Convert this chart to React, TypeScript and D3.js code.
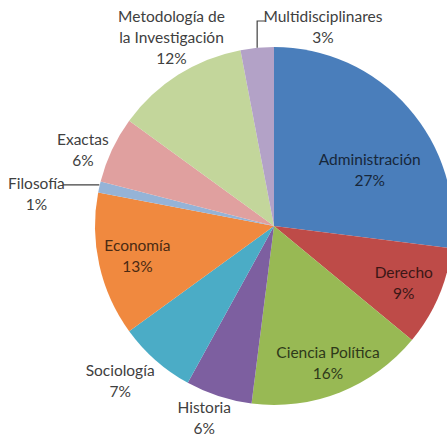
import * as d3 from 'd3'

// categories clockwise from 12 o'clock
const categories: string[][] = [
  ['Administración'],
  ['Derecho'],
  ['Ciencia Política'],
  ['Historia'],
  ['Sociología'],
  ['Economía'],
  ['Filosofía'],
  ['Exactas'],
  ['Metodología de', 'la Investigación'],
  ['Multidisciplinares'],
]
const shares: number[] = [27, 9, 16, 6, 7, 13, 1, 6, 12, 3]

const palette: string[] = [
  '#4a7ebb', '#be4b48', '#98b954', '#7d5fa0', '#4bacc6',
  '#f0893f', '#95b3d7', '#e0a09f', '#c3d69b', '#b3a2c7',
]
// true = label sits on the slice, false = outside
const inside: boolean[] = [true, true, true, false, false, true, false, false, false, false]

// label placement: radius as share of the pie radius, angle shift in degrees
const labelRadius: number[] = [0.62, 0.79, 0.82, 1.14, 1.22, 0.78, 1.34, 1.15, 1.2, 1.145]
const labelShift: number[] = [11, 0, 0, 2, 3.4, 0.6, -4.7, -3.4, 3.9, 19.2]

const W = 447
const H = 436
const cx = 274
const cy = 226
const r = 179
const lineH = 21

export default function App() {
  const rows = categories.map((c, i) => ({ name: c, value: shares[i], i }))
  const pie = d3.pie<any>().sort(null).value((d: any) => d.value)
  const arcs = pie(rows)
  const arc = d3.arc<any>().innerRadius(0).outerRadius(r)

  const polar = (a: number, R: number): [number, number] => [cx + R * Math.sin(a), cy - R * Math.cos(a)]

  return (
    <svg width={W} height={H} style={{ position: 'absolute', left: 0, top: 0 }}
      fontFamily="Lato, 'Open Sans', sans-serif" fontSize={15.5}>
      <rect width={W} height={H} fill="#fff" />
      <g transform={`translate(${cx},${cy})`}>
        {arcs.map((a: any) => (
          <path key={a.data.i} d={arc(a) as string} fill={palette[a.data.i]} />
        ))}
      </g>
      {arcs.map((a: any) => {
        const i = a.data.i
        const mid = (a.startAngle + a.endAngle) / 2 + (labelShift[i] * Math.PI) / 180
        const [x, y] = polar(mid, labelRadius[i] * r)
        const lines = [...a.data.name, `${a.data.value}%`]
        const top = y - ((lines.length - 1) * lineH) / 2
        const fill = inside[i] ? (d3.color(palette[i]) as any).darker(3.3).formatHex() : '#404040'
        return (
          <text key={i} x={x} y={top} textAnchor="middle" fill={fill} dominantBaseline="central">
            {lines.map((t, k) => (
              <tspan key={k} x={x} y={top + k * lineH}>{t}</tspan>
            ))}
          </text>
        )
      })}
      {/* leader lines for the two thin slices */}
      {(() => {
        const fil = arcs[6]
        const [ex, ey] = polar((fil.startAngle + fil.endAngle) / 2, r)
        const mul = arcs[9]
        const [mx, my] = polar((mul.startAngle + mul.endAngle) / 2, r)
        return (
          <g stroke="#404040" strokeWidth={1.2} fill="none">
            <path d={`M63,${ey - 2}H${ex}`} />
            <path d={`M${mx},${my}V21H265`} />
          </g>
        )
      })()}
    </svg>
  )
}
